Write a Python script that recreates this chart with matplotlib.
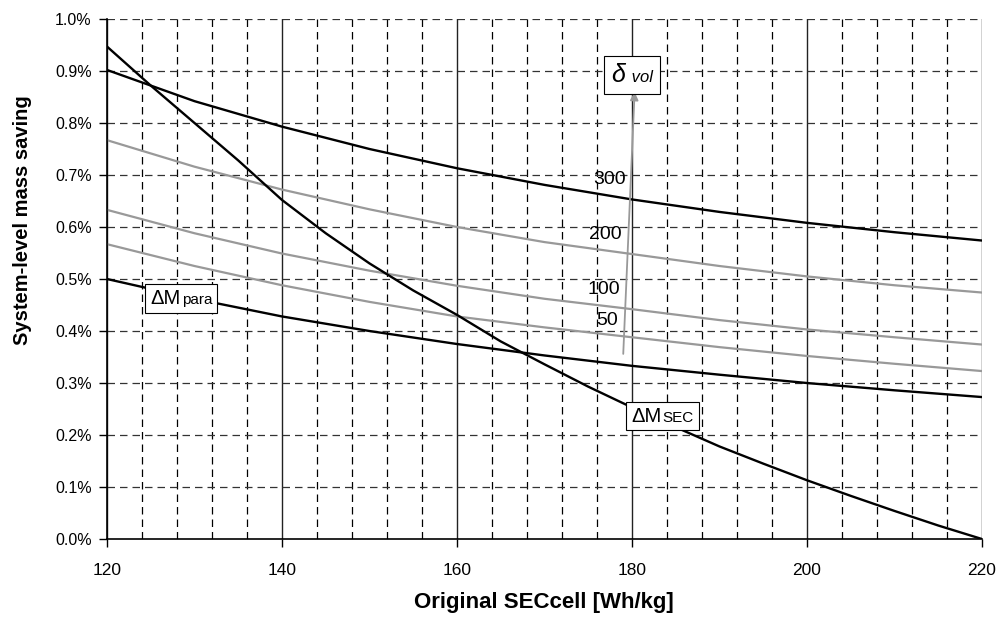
import numpy as np
import matplotlib
matplotlib.use("Agg")
import matplotlib.pyplot as plt
from matplotlib.offsetbox import TextArea, HPacker, AnnotationBbox
from matplotlib.ticker import FuncFormatter

plt.rcParams['font.family'] = ['Liberation Sans', 'DejaVu Sans']

# data (y in %)
sec_cell = [120, 130, 140, 150, 160, 170, 180, 190, 200, 210, 220]
vol_300 = [0.902, 0.842, 0.793, 0.750, 0.713, 0.681, 0.653, 0.629, 0.608, 0.590, 0.574]
vol_200 = [0.767, 0.716, 0.672, 0.634, 0.600, 0.571, 0.548, 0.525, 0.505, 0.488, 0.474]
vol_100 = [0.633, 0.588, 0.549, 0.516, 0.487, 0.462, 0.442, 0.421, 0.403, 0.388, 0.374]
vol_50 = [0.567, 0.525, 0.488, 0.456, 0.428, 0.407, 0.388, 0.369, 0.352, 0.337, 0.323]
dm_para = [0.500, 0.462, 0.428, 0.400, 0.375, 0.353, 0.333, 0.316, 0.300, 0.286, 0.273]

sec_cell_fine = [120, 125, 130, 135, 140, 145, 150, 155, 160, 165, 170,
                 175, 180, 185, 190, 195, 200, 205, 210, 215, 220]
dm_sec = [0.947, 0.872, 0.800, 0.728, 0.652, 0.588, 0.530, 0.478, 0.431, 0.380, 0.336,
          0.293, 0.253, 0.215, 0.178, 0.145, 0.113, 0.083, 0.054, 0.026, 0.000]

vol_labels = ['300', '200', '100', '50']
vol_label_pos = [(177.4, 0.692), (177.0, 0.585), (176.8, 0.480), (177.2, 0.421)]

fig = plt.figure(figsize=(10.01, 6.19), dpi=100)
ax = fig.add_axes([0.1069, 0.1292, 0.8741, 0.8401])

# grid
for xv in np.arange(120, 221, 4):
    if (xv - 120) % 20 == 0:
        ax.axvline(xv, color='#222222', lw=1.0, zorder=1)
    else:
        ax.axvline(xv, color='black', lw=0.9, ls=(0, (6, 4)), zorder=1)
for yv in np.arange(0.1, 1.01, 0.1):
    ax.axhline(yv, color='#333333', lw=0.9, ls=(0, (6, 4)), zorder=1)

ax.plot(sec_cell, vol_50, color='#999999', lw=1.6, zorder=3)
ax.plot(sec_cell, vol_100, color='#999999', lw=1.6, zorder=3)
ax.plot(sec_cell, vol_200, color='#999999', lw=1.6, zorder=3)
ax.plot(sec_cell, vol_300, color='black', lw=1.7, zorder=3)
ax.plot(sec_cell, dm_para, color='black', lw=1.7, zorder=3)
ax.plot(sec_cell_fine, dm_sec, color='black', lw=1.7, zorder=3)

for lab, (lx, ly) in zip(vol_labels, vol_label_pos):
    ax.text(lx, ly, lab, fontsize=14, ha='center', va='center', zorder=4)

# arrow for delta_vol
ax.annotate('', xy=(180.3, 0.86), xytext=(179.0, 0.356),
            arrowprops=dict(arrowstyle='-|>', color='#999999', lw=1.3,
                            mutation_scale=12, shrinkA=0, shrinkB=0), zorder=4)


def boxed(parts, xy, pad=0.35):
    areas = [TextArea(t, textprops=dict(fontsize=s, style=st)) for t, s, st in parts]
    pack = HPacker(children=areas, align='baseline', pad=0, sep=1)
    ab = AnnotationBbox(pack, xy, xycoords='data', frameon=True, pad=pad,
                        bboxprops=dict(boxstyle=f'square,pad={pad}', fc='white',
                                       ec='black', lw=0.8), zorder=6)
    ax.add_artist(ab)


boxed([('\u0394M', 14.5, 'normal'), ('para', 11, 'normal')], (128.5, 0.463))
boxed([('\u0394M', 14.5, 'normal'), ('SEC', 11, 'normal')], (183.5, 0.2365))
boxed([('\u03b4', 18, 'italic'), (' vol', 12, 'italic')], (180.0, 0.892), pad=0.5)

ax.set_xlim(120, 220)
ax.set_ylim(0, 1.0)
ax.set_xticks(np.arange(120, 221, 20))
ax.set_yticks(np.arange(0, 1.01, 0.1))
ax.yaxis.set_major_formatter(FuncFormatter(lambda v, p: f'{v:.1f}%'))
ax.tick_params(axis='x', direction='out', length=6, width=1, labelsize=12.5, pad=11)
ax.tick_params(axis='y', direction='out', length=6, width=1, labelsize=11.5, pad=5)

for s in ['top', 'right']:
    ax.spines[s].set_visible(False)
for s in ['left', 'bottom']:
    ax.spines[s].set_linewidth(1.2)
    ax.spines[s].set_zorder(5)

ax.set_xlabel('Original SECcell [Wh/kg]', fontsize=16, fontweight='bold')
ax.set_ylabel('System-level mass saving', fontsize=14.5, fontweight='bold')
ax.xaxis.set_label_coords(0.4995, -0.102)
ax.yaxis.set_label_coords(-0.086, 0.614)

fig.savefig('out.png', dpi=100)
